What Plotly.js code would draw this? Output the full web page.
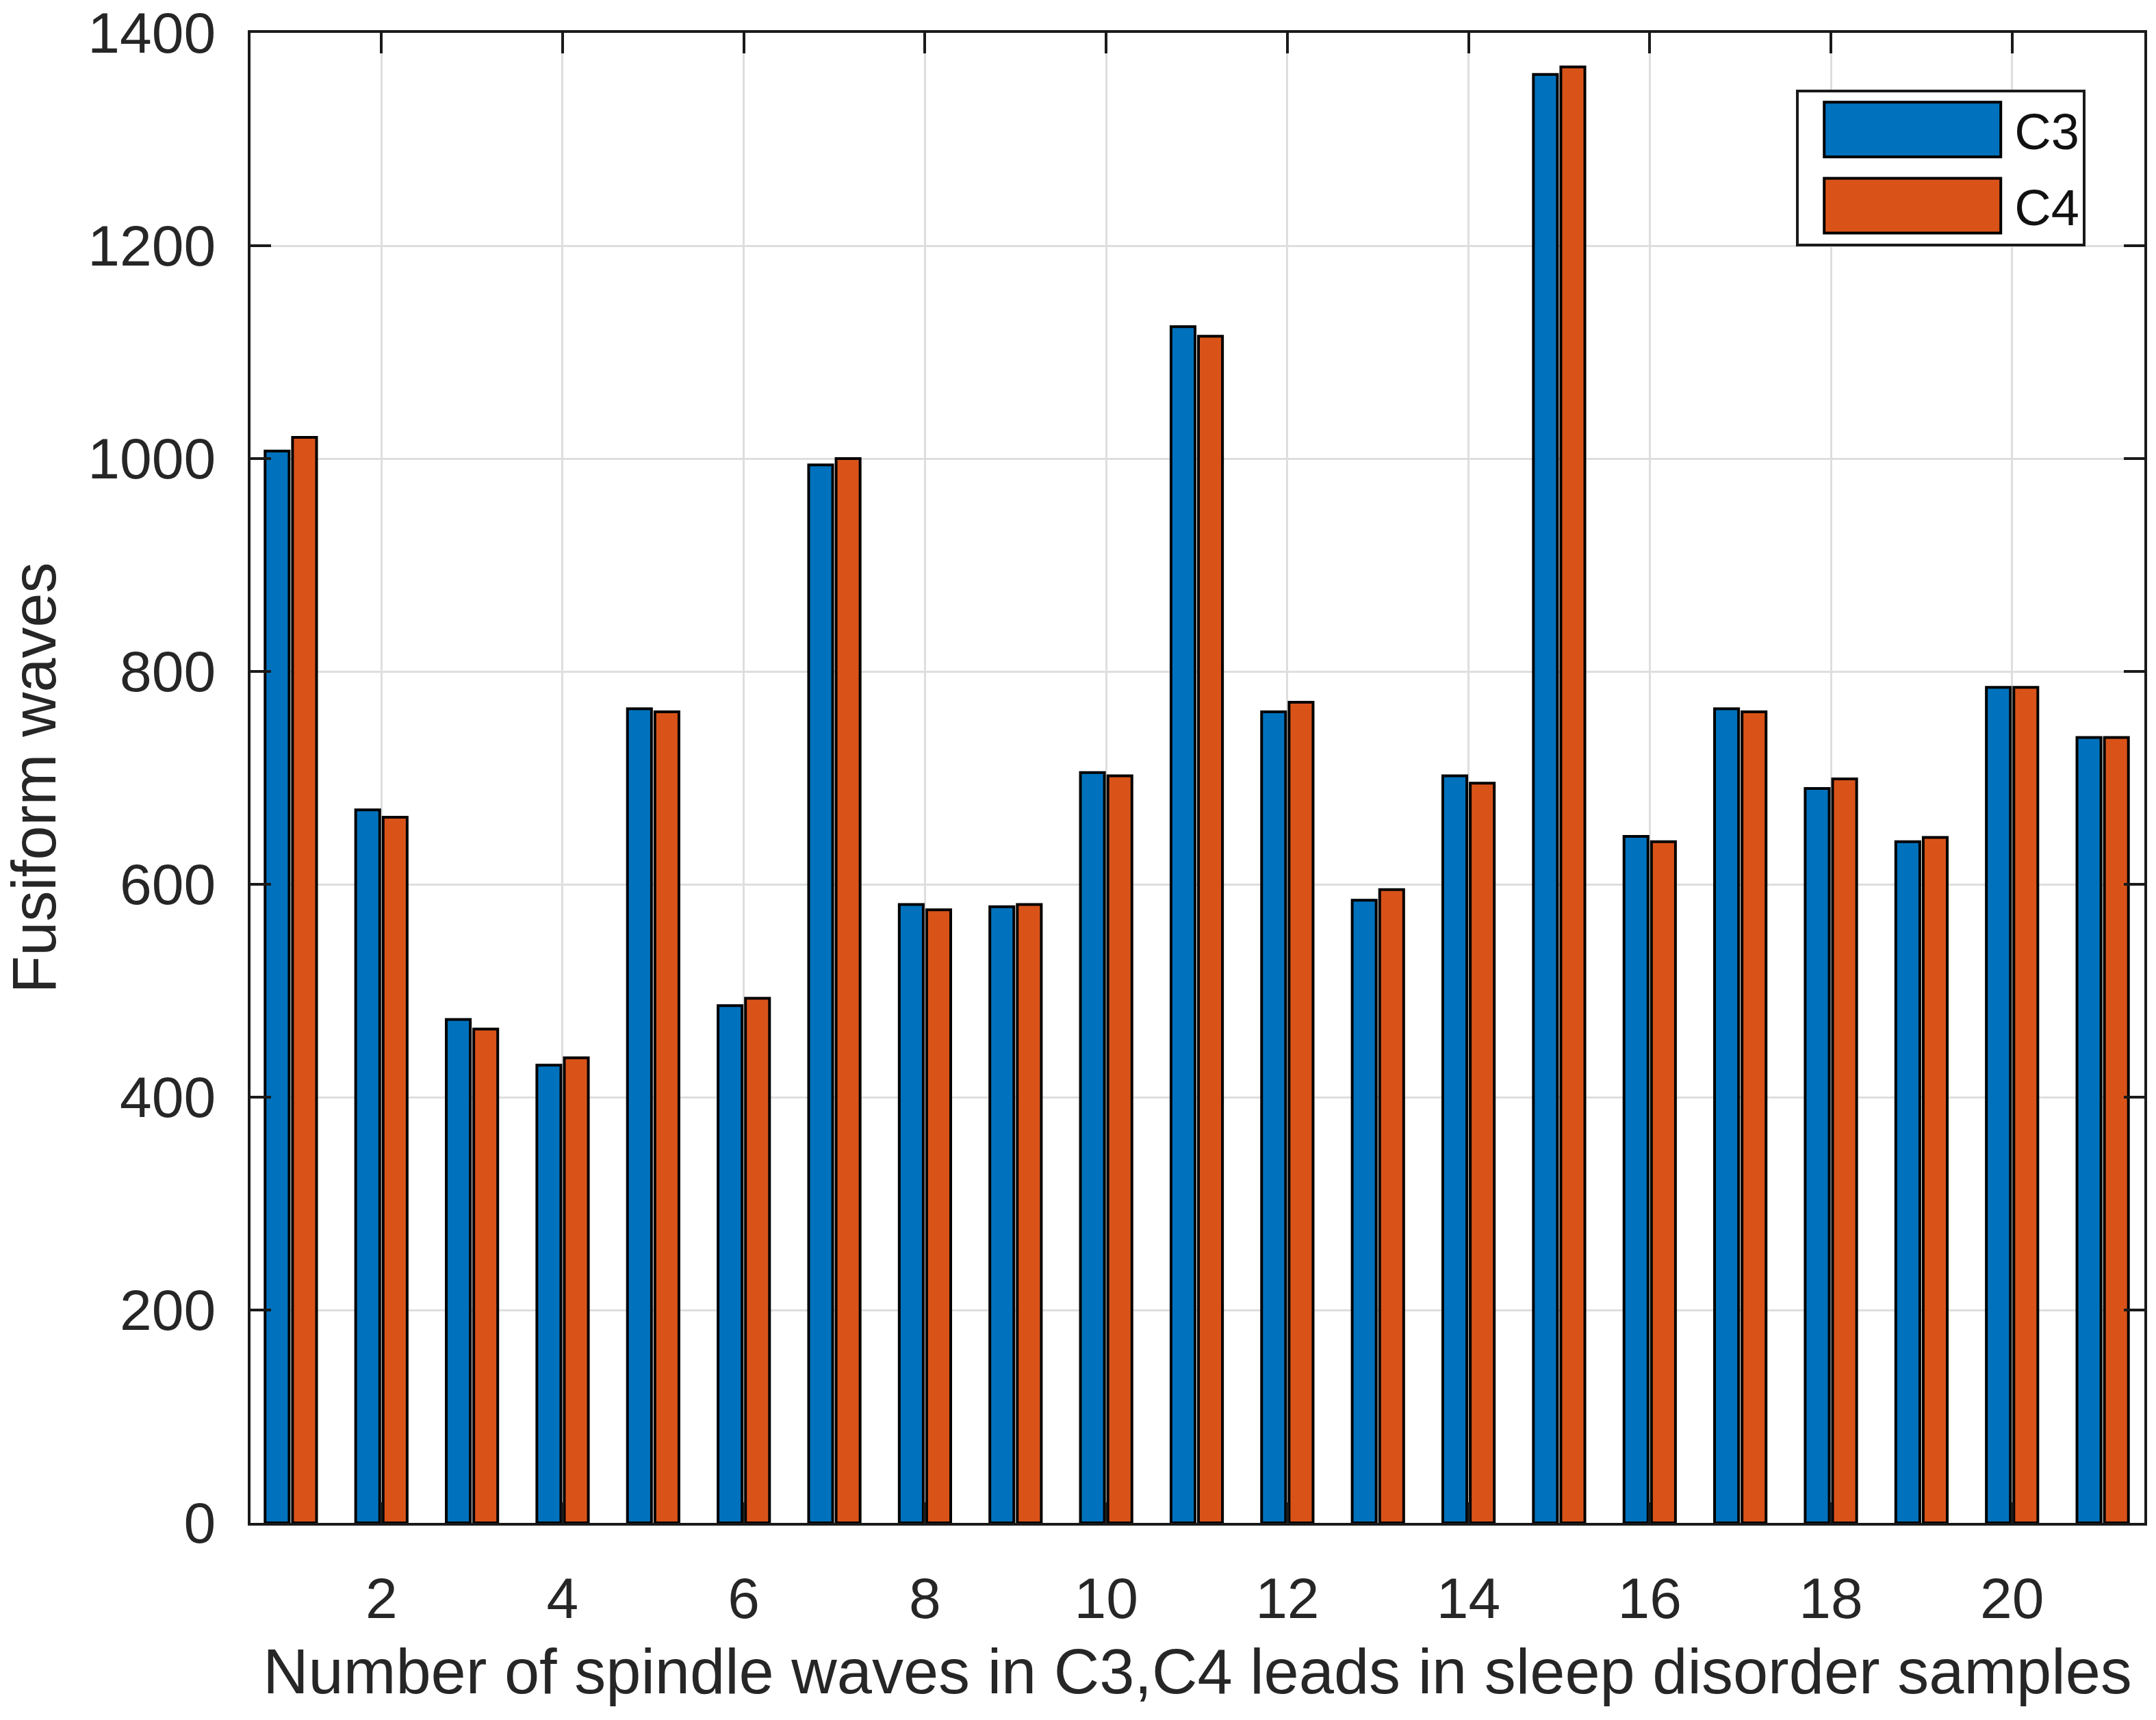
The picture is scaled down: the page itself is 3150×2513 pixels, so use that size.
<!DOCTYPE html>
<html>
<head>
<meta charset="utf-8">
<script src="https://cdn.plot.ly/plotly-3.0.1.min.js"></script>
<style>
  html, body { margin: 0; padding: 0; background: #fff; }
  #chart { width: 3150px; height: 2513px; }
</style>
</head>
<body>
<div id="chart"></div>
<script>
// sample index 1..21
const samples = [1, 2, 3, 4, 5, 6, 7, 8, 9, 10, 11, 12, 13, 14, 15, 16, 17, 18, 19, 20, 21];
// spindle wave counts per lead
const c3 = [1007, 670, 473, 430, 765, 486, 994, 581, 579, 705, 1124, 762, 585, 702, 1361, 645, 765, 690, 640, 785, 738];
const c4 = [1020, 663, 464, 437, 762, 493, 1000, 576, 581, 702, 1115, 771, 595, 695, 1368, 640, 762, 699, 644, 785, 738];
const xTicks = [2, 4, 6, 8, 10, 12, 14, 16, 18, 20];
const yTicks = [0, 200, 400, 600, 800, 1000, 1200, 1400];

const FONT = "Liberation Sans, Arial, Helvetica, sans-serif";
const TEXT = "#262626";

const axisBase = {
  showline: true,
  linecolor: "#1a1a1a",
  linewidth: 4,
  mirror: "ticks",
  ticks: "inside",
  ticklen: 30,
  tickwidth: 4,
  tickcolor: "#1a1a1a",
  showgrid: true,
  gridcolor: "#dedede",
  gridwidth: 3,
  zeroline: false,
  tickfont: { family: FONT, size: 84, color: TEXT },
};

Plotly.newPlot(
  "chart",
  [
    {
      name: "C3",
      legendgroup: "c3",
      type: "bar",
      x: samples,
      y: c3,
      marker: { color: "#0072BD", line: { color: "#000", width: 4 } },
    },
    {
      name: "C4",
      legendgroup: "c4",
      type: "bar",
      x: samples,
      y: c4,
      marker: { color: "#D95319", line: { color: "#000", width: 4 } },
    },
  ],
  {
    width: 3150,
    height: 2513,
    margin: { l: 366, r: 17, t: 48, b: 288 },
    paper_bgcolor: "#fff",
    plot_bgcolor: "#fff",
    barmode: "group",
    bargap: 0.394,
    bargroupgap: 0.125,
    font: { family: FONT, color: TEXT },
    xaxis: Object.assign({}, axisBase, {
      range: [0.555, 21.46],
      tickmode: "array",
      tickvals: xTicks,
      ticktext: xTicks.map(String),
      ticklabelstandoff: 34,
      title: {
        text: "Number of spindle waves in C3,C4 leads in sleep disorder samples",
        font: { family: FONT, size: 92, color: TEXT },
        standoff: 30,
      },
    }),
    yaxis: Object.assign({}, axisBase, {
      range: [0, 1400],
      tickmode: "array",
      tickvals: yTicks,
      ticktext: yTicks.map(String),
      ticklabelstandoff: 30,
      title: {
        text: "Fusiform waves",
        font: { family: FONT, size: 90, color: TEXT },
        standoff: 40,
      },
    }),
    showlegend: true,
    legend: {
      x: 0.969,
      xanchor: "right",
      y: 0.962,
      yanchor: "top",
      bgcolor: "#fff",
      bordercolor: "#1a1a1a",
      borderwidth: 4,
      itemwidth: 305,
      traceorder: "grouped",
      tracegroupgap: 12,
      font: { family: FONT, size: 74, color: "#111" },
    },
  },
  { staticPlot: true }
).then(widenLegendSwatches);

// plotly draws fixed small squares for bar legend items; stretch them
function widenLegendSwatches() {
  const items = document.querySelectorAll("#chart .legend .traces");
  items.forEach((g) => {
    const path = g.querySelector(".legendpoints path");
    const text = g.querySelector("text.legendtext");
    if (!path || !text) return;
    const tb = text.getBoundingClientRect();
    const pb = path.getBoundingClientRect();
    const svg = path.ownerSVGElement;
    const inv = path.getScreenCTM().inverse();
    const toLocal = (x, y) => {
      const p = svg.createSVGPoint();
      p.x = x;
      p.y = y;
      return p.matrixTransform(inv);
    };
    const right = tb.left - 20;
    const left = right - 258;
    const cy = (pb.top + pb.bottom) / 2;
    const a = toLocal(left, cy - 40);
    const b = toLocal(right, cy + 40);
    path.setAttribute("d", `M${a.x},${a.y}H${b.x}V${b.y}H${a.x}Z`);
    path.style.strokeWidth = "4px";
    path.style.stroke = "#000";
  });
}
</script>
</body>
</html>
